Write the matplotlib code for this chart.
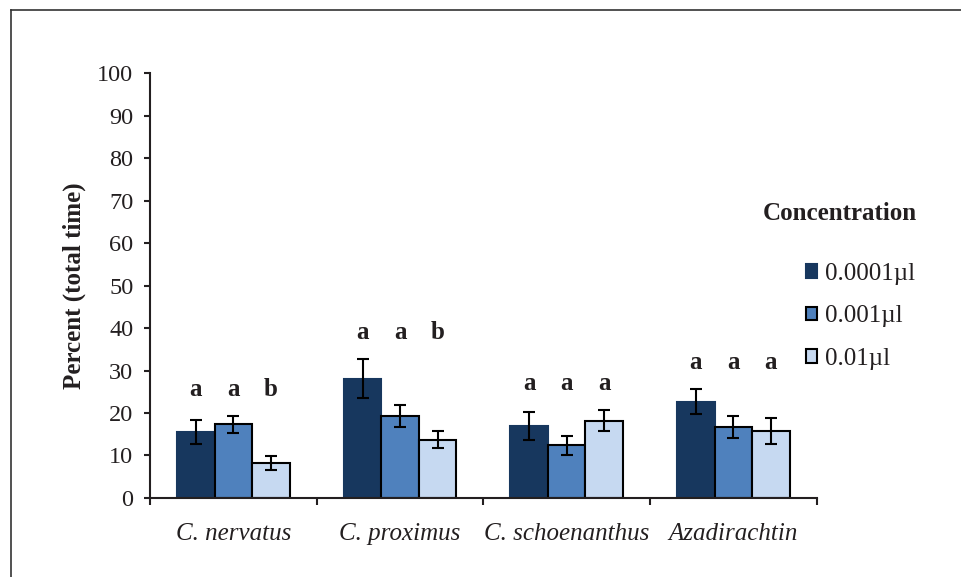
import numpy as np
import matplotlib
matplotlib.use('Agg')
import matplotlib.pyplot as plt
from matplotlib.patches import Patch
from matplotlib.lines import Line2D

plt.rcParams['font.family'] = ['Liberation Serif', 'DejaVu Serif']

# donnees
especes = ['C. nervatus', 'C. proximus', 'C. schoenanthus', 'Azadirachtin']
concentrations = ['0.0001\u00b5l', '0.001\u00b5l', '0.01\u00b5l']
moyennes = [[15.6, 28.1, 17.0, 22.7],
            [17.3, 19.3, 12.4, 16.6],
            [8.2, 13.7, 18.2, 15.8]]
erreurs = [[2.8, 4.6, 3.3, 3.0],
           [2.0, 2.5, 2.3, 2.6],
           [1.7, 2.0, 2.5, 3.0]]
lettres = [['a', 'a', 'a', 'a'],
           ['a', 'a', 'a', 'a'],
           ['b', 'b', 'a', 'a']]
couleurs = ['#17375e', '#4f81bd', '#c6d9f1']
bords = ['#17375e', 'black', 'black']
noir = '#231f20'

fig = plt.figure(figsize=(9.62, 5.77), dpi=100)
ax = fig.add_axes([0.156, 0.137, 0.693, 0.736])

x = np.arange(len(especes))
largeur = 0.225
for i in range(3):
	pos = x + (i - 1)*largeur
	ax.bar(pos, moyennes[i], largeur, color=couleurs[i], edgecolor=bords[i],
			linewidth=1.5, zorder=2)
	ax.errorbar(pos, moyennes[i], yerr=erreurs[i], fmt='none', ecolor='black',
				elinewidth=1.5, capsize=4, capthick=1.5, zorder=3)

# lettres de significativite au-dessus de chaque groupe
hauts = np.max(np.array(moyennes) + np.array(erreurs), axis=0)
for j in range(len(especes)):
	for i in range(3):
		ax.text(x[j] + (i - 1)*largeur, hauts[j] + 6.3, lettres[i][j],
				ha='center', va='center', fontsize=18, fontweight='bold',
				color=noir)

ax.set_xlim(-0.5, 3.5)
ax.set_ylim(0, 100)
ax.set_yticks(np.arange(0, 101, 10))
ax.set_xticks(np.arange(-0.5, 3.6, 1))
ax.set_xticklabels([])
ax.set_xticks(x, minor=True)
ax.set_xticklabels(especes, minor=True, fontsize=18, style='italic',
					color=noir)
ax.tick_params(axis='x', which='minor', length=0, pad=18)
ax.tick_params(axis='x', which='major', length=5, width=1.5, color=noir)
ax.tick_params(axis='y', length=4, width=1.5, color=noir, labelsize=17.5,
				labelcolor=noir, pad=8)
for s in ['top', 'right']:
	ax.spines[s].set_visible(False)
for s in ['left', 'bottom']:
	ax.spines[s].set_linewidth(1.5)
	ax.spines[s].set_color(noir)
ax.set_ylabel('Percent (total time)', fontsize=18, fontweight='bold',
				color=noir, labelpad=8)

# legende
fig.text(840/962, 1 - 213/577, 'Concentration', ha='center', va='center',
		fontsize=18, fontweight='bold', color=noir)
poignees = [Patch(facecolor=couleurs[i], edgecolor=bords[i], linewidth=1.5)
			for i in range(3)]
fig.legend(poignees, concentrations, loc='upper left',
			bbox_to_anchor=(0.838, 1 - 263/577), frameon=False, fontsize=18,
			handlelength=0.45, handleheight=0.45, handletextpad=0.3,
			labelspacing=0.82, borderpad=0, borderaxespad=0,
			labelcolor=noir)

# cadre partiel autour de la figure
fig.add_artist(Line2D([11/962, 11/962], [0, 1 - 10/577], color='#333333',
					lw=1.2))
fig.add_artist(Line2D([11/962, 1], [1 - 10/577, 1 - 10/577],
					color='#333333', lw=1.2))

plt.savefig('out.png', dpi=100)
